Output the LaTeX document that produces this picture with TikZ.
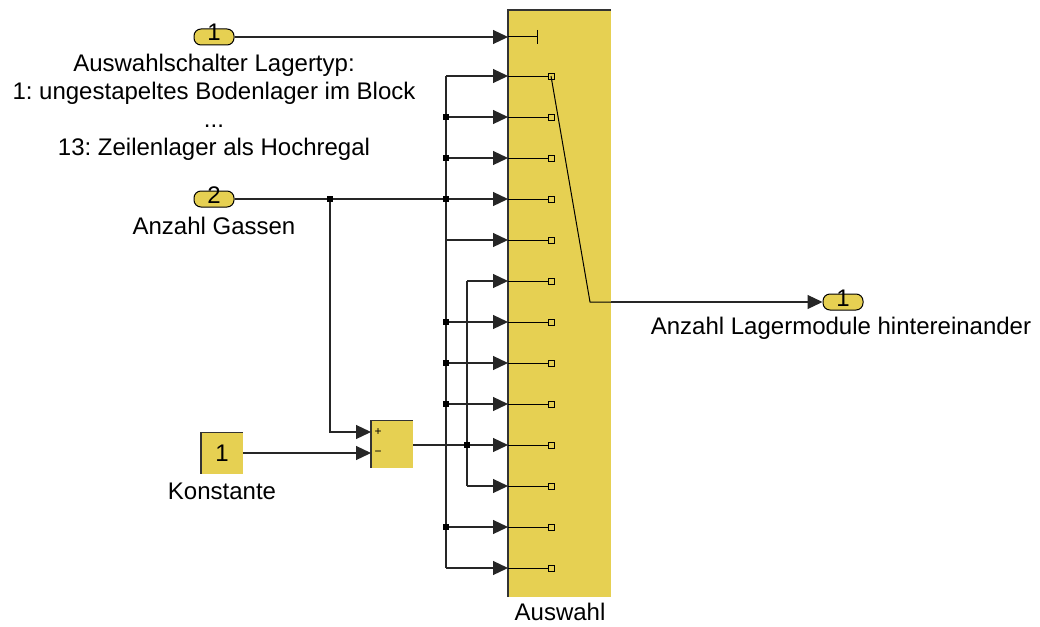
\documentclass[tikz,border=0pt]{standalone}
\usepackage{fontspec}
\setmainfont{Liberation Sans}
\usetikzlibrary{arrows.meta}
\definecolor{simyellow}{RGB}{230,208,82}
\frenchspacing
\begin{document}
\begin{tikzpicture}[x=1pt,y=-1pt,
        font=\fontsize{24}{28}\selectfont,
        wire/.style={line width=1.2pt,draw=black!85},
        sig/.style={wire,-{Triangle[length=15pt,width=14pt]}},
        port/.style={draw,line width=1pt,fill=simyellow,rounded corners=7pt,minimum width=40pt,minimum height=16pt,text height=12pt,text depth=4pt,inner sep=0pt},
        block/.style={fill=simyellow,inner sep=0pt},
        jdot/.style={fill=black,minimum size=6pt,inner sep=0pt}]
    \useasboundingbox (0,0) rectangle (1040,626);

    % blocks
    \node[block,minimum width=103pt,minimum height=587pt] (sw) at (559.5,303.5) {};
    \draw[line width=1.5pt,black!80] (sw.south west) |- (sw.north east);
    \node at (560,612) {Auswahl};

    \node[block,minimum width=42pt,minimum height=47pt] (sum) at (392,444) {};
    \draw[line width=1.5pt,black!80] (sum.south west) |- (sum.north east);
    \node[font=\fontsize{12}{12}\selectfont] at (378,432) {+};
    \node[font=\fontsize{12}{12}\selectfont] at (378,453) {−};

    \node[block,minimum width=42pt,minimum height=41pt] (const) at (222,453) {1};
    \draw[line width=1.5pt,black!80] (const.south west) |- (const.north east);
    \node at (222,491) {Konstante};

    \node[port] (in1) at (214,37) {1};
    \node[align=center] at (214,107) {Auswahlschalter Lagertyp:\\1: ungestapeltes Bodenlager im Block\\...\\13: Zeilenlager als Hochregal};
    \node[port] (in2) at (214,199) {2};
    \node at (214,226) {Anzahl Gassen};
    \node[port] (out1) at (843,302) {1};
    \node at (841,328) {Anzahl Lagermodule hintereinander};

    % switch ports
    \coordinate (ctl) at (508,37);
    \coordinate (swout) at (611,302);
    \coordinate (sumplus) at (371,432);
    \coordinate (summinus) at (371,453);
    \coordinate (sumout) at (413,445);
    \foreach[evaluate={\y=int(35+41*\i)}] \i in {1,...,13} {
        \coordinate (p\i) at (508,\y);
        \coordinate (b\i) at (446,\y);
        \draw[line width=1pt] (p\i) -- ++(40,0) node[right,draw,fill=simyellow,minimum size=6pt,inner sep=0pt,line width=0.8pt] {};
    }
    \draw[line width=1pt] (ctl) -- (537,37);
    \draw[line width=1pt] (537,30) -- (537,44);
    \draw[line width=1pt] (551,76) -- (590,302) -- (swout);

    % signals
    \draw[sig] (in1.east) -- (ctl);
    \draw[sig] (in2.east) -- (p4);
    \draw[sig] (swout) -- (out1.west);
    \coordinate (j0) at (330,199);
    \draw[sig] (j0) |- (sumplus);
    \draw[sig] (const.east) -- (summinus);
    \draw[wire] (b1) -- (b13);
    \foreach \k in {1,2,3,5,7,8,9,12,13} {
        \draw[sig] (b\k) -- (p\k);
    }
    \coordinate (s6) at (467,281);
    \coordinate (s11) at (467,486);
    \draw[sig] (sumout) -- (p10);
    \draw[wire] (s6) -- (s11);
    \draw[sig] (s6) -- (p6);
    \draw[sig] (s11) -- (p11);

    % junctions
    \foreach \k in {2,3,4,7,8,9,12} {
        \node[jdot] at (b\k) {};
    }
    \node[jdot] at (j0) {};
    \node[jdot] at (467,445) {};
\end{tikzpicture}
\end{document}
